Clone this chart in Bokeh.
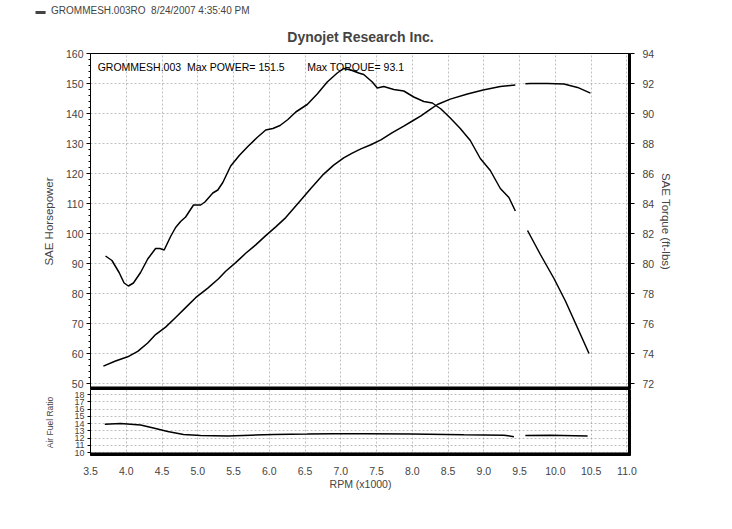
from bokeh.plotting import figure
from bokeh.models import Range1d, LinearAxis, Label, Title, Span, FixedTicker, NumeralTickFormatter
from bokeh.layouts import column
from bokeh.embed import file_html
from bokeh.resources import INLINE

FONT = "Liberation Sans"
NaN = float("nan")
NB = "\u00a0"

# ---------------- data ----------------
hp_rpm = [3.68, 3.85, 4.02, 4.16, 4.30, 4.41, 4.55, 4.69, 4.83, 4.97, 5.14, 5.29, 5.39, 5.53,
          5.67, 5.81, 5.95, 6.09, 6.23, 6.40, 6.58, 6.76, 6.90, 7.04, 7.16, 7.28, 7.42, 7.56,
          7.72, 7.88, 8.00, 8.12, 8.25, 8.35, 8.53, 8.77, 8.99, 9.23, 9.44, 9.50,
          9.58, 9.65, 9.89, 10.12, 10.31, 10.49]
hp_val = [55.8, 57.5, 58.9, 60.7, 63.5, 66.3, 68.8, 72.0, 75.3, 78.6, 81.8, 84.9, 87.4, 90.3,
          93.4, 96.2, 99.3, 102.2, 105.3, 110.0, 115.0, 119.8, 122.8, 125.2, 126.8, 128.2, 129.6, 131.2,
          133.6, 135.8, 137.5, 139.2, 141.4, 143.0, 144.8, 146.5, 147.8, 149.0, 149.5, NaN,
          149.9, 150.0, 150.0, 149.8, 148.7, 146.8]

tq_rpm = [3.71, 3.80, 3.90, 3.97, 4.03, 4.10, 4.20, 4.30, 4.41, 4.47, 4.53, 4.62, 4.69, 4.76,
          4.83, 4.94, 5.04, 5.10, 5.21, 5.28, 5.35, 5.46, 5.58, 5.70, 5.83, 5.95, 6.05, 6.15,
          6.26, 6.37, 6.53, 6.67, 6.81, 6.95, 7.04, 7.14, 7.25, 7.32, 7.44, 7.51, 7.60, 7.74,
          7.88, 8.02, 8.16, 8.28, 8.40, 8.53, 8.67, 8.81, 8.95, 9.09, 9.23, 9.35, 9.44, 9.52,
          9.61, 9.79, 9.98, 10.14, 10.31, 10.47]
tq_val = [80.5, 80.2, 79.4, 78.7, 78.5, 78.7, 79.4, 80.3, 81.0, 81.0, 80.9, 81.8, 82.4, 82.8,
          83.1, 83.9, 83.9, 84.1, 84.7, 84.9, 85.4, 86.5, 87.2, 87.8, 88.4, 88.9, 89.0, 89.2,
          89.6, 90.1, 90.6, 91.3, 92.1, 92.7, 93.0, 92.9, 92.7, 92.6, 92.1, 91.7, 91.8, 91.6,
          91.5, 91.1, 90.8, 90.7, 90.3, 89.7, 89.0, 88.2, 87.0, 86.2, 85.0, 84.4, 83.5, NaN,
          82.2, 80.6, 79.0, 77.5, 75.7, 74.0]

afr_rpm = [3.70, 3.92, 4.20, 4.38, 4.58, 4.80, 5.04, 5.42, 5.74, 6.06, 6.53, 6.90, 7.32, 7.98,
           8.72, 9.28, 9.42, 9.50, 9.58, 9.93, 10.45]
afr_val = [13.9, 14.0, 13.8, 13.4, 12.9, 12.5, 12.35, 12.3, 12.4, 12.5, 12.55, 12.6, 12.6, 12.55,
           12.45, 12.4, 12.2, NaN, 12.35, 12.4, 12.3]

hp_ticks = [50, 60, 70, 80, 90, 100, 110, 120, 130, 140, 150, 160]
tq_ticks = [72, 74, 76, 78, 80, 82, 84, 86, 88, 90, 92, 94]
afr_ticks = [10, 11, 12, 13, 14, 15, 16, 17, 18]
rpm_ticks = [3.5, 4.0, 4.5, 5.0, 5.5, 6.0, 6.5, 7.0, 7.5, 8.0, 8.5, 9.0, 9.5, 10.0, 10.5, 11.0]

header_text = "\u25ac" + NB + NB + "GROMMESH.003RO" + NB + NB + "8/24/2007 4:35:40 PM"
title_text = "Dynojet Research Inc."
note_left = "GROMMESH.003" + NB + NB + "Max POWER= 151.5"
note_right = "Max TORQUE= 93.1"

# ---------------- main panel ----------------
X0, X1 = 3.5, 11.05
x_range = Range1d(X0, X1)
HP0, HP1 = 48.0, 160
TQ0, TQ1 = 71.6, 94
AF0, AF1 = 9.6, 18.7

GRID_COLOR = "#808080"

p = figure(width=732, height=389, x_range=x_range, y_range=Range1d(HP0, HP1),
           output_backend="svg", toolbar_location=None, x_axis_location=None,
           min_border_left=90, min_border_right=102, min_border_top=51, min_border_bottom=0,
           background_fill_color="white", border_fill_color="white",
           outline_line_color="black", outline_line_width=1)
p.extra_y_ranges = {"tq": Range1d(TQ0, TQ1)}

ax = p.yaxis[0]
ax.ticker = FixedTicker(ticks=hp_ticks, minor_ticks=[v / 2 for v in range(100, 321, 4)])
ax.axis_label = "SAE Horsepower"
ax.major_label_text_font = FONT
ax.major_label_text_font_size = "10.5px"
ax.axis_label_text_font = FONT
ax.axis_label_text_font_size = "11.5px"
ax.axis_label_text_font_style = "normal"
ax.major_tick_out = 4
ax.major_tick_in = 0
ax.minor_tick_out = 2
ax.minor_tick_in = 0
ax.major_label_standoff = 3
ax.axis_label_standoff = 8
ax.axis_line_color = "black"

rax = LinearAxis(y_range_name="tq", ticker=FixedTicker(ticks=tq_ticks, minor_ticks=[]),
                 axis_label="SAE Torque (ft-lbs)")
rax.major_label_text_font = FONT
rax.major_label_text_font_size = "10.5px"
rax.axis_label_text_font = FONT
rax.axis_label_text_font_size = "11.5px"
rax.axis_label_text_font_style = "normal"
rax.major_tick_out = 4
rax.major_tick_in = 0
rax.major_label_standoff = 8
rax.axis_label_standoff = 3
rax.axis_line_color = None
p.add_layout(rax, "right")

p.xgrid.ticker = FixedTicker(ticks=rpm_ticks)
p.ygrid.ticker = FixedTicker(ticks=hp_ticks)
for g in p.grid:
    g.grid_line_color = GRID_COLOR
    g.grid_line_alpha = 0.5
    g.grid_line_dash = "2 2"
    g.grid_line_width = 1

p.line(hp_rpm, hp_val, line_color="black", line_width=1.5)
p.line(tq_rpm, tq_val, line_color="black", line_width=1.5, y_range_name="tq")

p.add_layout(Label(x=3.6, y=155.6, text=note_left, text_font=FONT, text_font_size="10.5px",
                   text_baseline="middle", text_color="black"))
p.add_layout(Label(x=6.53, y=155.6, text=note_right, text_font=FONT, text_font_size="10.5px",
                   text_baseline="middle", text_color="black"))

p.add_layout(Span(location=HP0, dimension="width", line_color="black", line_width=6))
p.add_layout(Span(location=X1, dimension="height", line_color="black", line_width=5))

p.add_layout(Title(text=title_text, align="center", text_font=FONT, text_font_size="14px",
                   text_font_style="bold", standoff=18), "above")
p.add_layout(Title(text=header_text, align="left", text_font=FONT, text_font_size="10px",
                   text_font_style="normal", offset=-55, standoff=4), "above")

# ---------------- air fuel ratio panel ----------------
q = figure(width=732, height=140, x_range=x_range, y_range=Range1d(AF0, AF1),
           output_backend="svg", toolbar_location=None,
           min_border_left=90, min_border_right=102, min_border_top=0, min_border_bottom=74,
           background_fill_color="white", border_fill_color="white",
           outline_line_color="black", outline_line_width=1)
q.xaxis.ticker = FixedTicker(ticks=rpm_ticks)
q.xaxis.formatter = NumeralTickFormatter(format="0.0")
q.xaxis.axis_label = "RPM (x1000)"
q.xaxis.major_label_text_font = FONT
q.xaxis.major_label_text_font_size = "10.5px"
q.xaxis.axis_label_text_font = FONT
q.xaxis.axis_label_text_font_size = "10.5px"
q.xaxis.axis_label_text_font_style = "normal"
q.xaxis.major_tick_out = 0
q.xaxis.major_tick_in = 0
q.xaxis.minor_tick_out = 0
q.xaxis.minor_tick_in = 0
q.xaxis.major_label_standoff = 11
q.xaxis.axis_label_standoff = 0
q.xaxis.axis_line_color = None

q.yaxis.ticker = FixedTicker(ticks=afr_ticks, minor_ticks=[])
q.yaxis.axis_label = "Air Fuel Ratio"
q.yaxis.major_label_text_font = FONT
q.yaxis.major_label_text_font_size = "9px"
q.yaxis.axis_label_text_font = FONT
q.yaxis.axis_label_text_font_size = "8.5px"
q.yaxis.axis_label_text_font_style = "normal"
q.yaxis.major_tick_out = 3
q.yaxis.major_tick_in = 0
q.yaxis.major_label_standoff = 3
q.yaxis.axis_label_standoff = 16
q.yaxis.axis_line_color = "black"

q.xgrid.ticker = FixedTicker(ticks=rpm_ticks)
q.ygrid.ticker = FixedTicker(ticks=afr_ticks)
for g in q.grid:
    g.grid_line_color = GRID_COLOR
    g.grid_line_alpha = 0.5
    g.grid_line_dash = "2 2"
    g.grid_line_width = 1

q.line(afr_rpm, afr_val, line_color="black", line_width=1.5)

q.add_layout(Span(location=AF0, dimension="width", line_color="black", line_width=6))
q.add_layout(Span(location=X1, dimension="height", line_color="black", line_width=5))

layout = column(p, q, spacing=0)
open("out.html", "w").write(file_html(layout, INLINE))
